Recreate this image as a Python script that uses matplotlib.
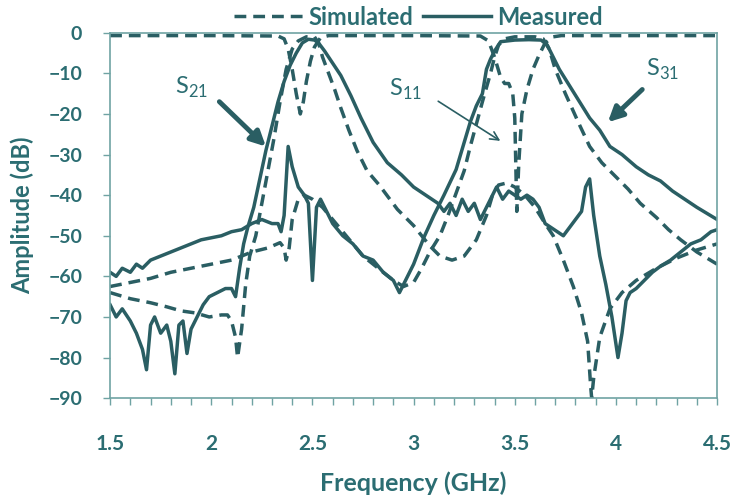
import matplotlib
matplotlib.use('Agg')
import matplotlib.pyplot as plt
from matplotlib.ticker import MultipleLocator

# colours / font
line_c = '#2a5e63'
text_c = '#2b6d72'
spine_c = '#6fa3a3'
plt.rcParams['font.family'] = ['Lato', 'DejaVu Sans']
plt.rcParams['mathtext.fontset'] = 'custom'
plt.rcParams['mathtext.rm'] = 'Lato'

# data (GHz, dB)
s11_sim_f = [1.50, 2.00, 2.33, 2.36, 2.38, 2.40, 2.42, 2.44, 2.455, 2.47, 2.49, 2.51, 2.54, 2.58,
             3.00, 3.33, 3.37, 3.40, 3.43, 3.45, 3.47, 3.49, 3.50, 3.51, 3.52, 3.535, 3.56, 3.59,
             3.62, 3.65, 3.69, 3.73, 4.50]
s11_sim_db = [-0.7, -0.7, -0.8, -1.5, -4, -9, -15, -20, -17, -12, -7, -3.5, -1.2, -0.7,
              -0.7, -0.8, -2, -6, -11, -12.5, -12.5, -15, -21, -44, -32, -20, -14, -9,
              -5.5, -2.5, -1, -0.7, -0.7]

s21_sim_f = [1.50, 1.60, 1.70, 1.78, 1.85, 1.92, 1.99, 2.05, 2.08, 2.10, 2.12, 2.13, 2.15, 2.17,
             2.19, 2.22, 2.25, 2.28, 2.31, 2.34, 2.37, 2.40, 2.43, 2.47, 2.51, 2.53, 2.55, 2.58,
             2.61, 2.64, 2.68, 2.72, 2.77, 2.83, 2.92, 3.00, 3.08, 3.13, 3.19, 3.25, 3.31, 3.36,
             3.39, 3.42, 3.46, 3.50, 3.55, 3.60, 3.65, 3.69, 3.74, 3.79, 3.83, 3.86, 3.875, 3.88,
             3.89, 3.92, 3.97, 4.03, 4.10, 4.20, 4.30, 4.40, 4.50]
s21_sim_db = [-64, -65.5, -66.5, -67.5, -68.5, -69, -70, -69.5, -69.5, -71, -75, -80, -73, -62,
              -55, -50, -42, -34, -26, -17, -9, -4, -2, -1, -1, -2.5, -6, -10,
              -14, -18.5, -24, -29, -34, -37.5, -43.5, -47.5, -52.5, -55, -56, -55, -51, -45,
              -40, -37.5, -37, -38, -40, -43, -47, -50, -56, -62.6, -69, -76, -87, -90,
              -85, -75, -68, -64, -61, -58, -55.5, -53.5, -52]

s31_sim_f = [1.50, 1.60, 1.70, 1.80, 1.90, 2.00, 2.10, 2.20, 2.28, 2.34, 2.36, 2.37, 2.385, 2.40,
             2.43, 2.46, 2.50, 2.55, 2.60, 2.65, 2.70, 2.75, 2.80, 2.85, 2.90, 2.95, 3.00, 3.04,
             3.08, 3.13, 3.17, 3.21, 3.25, 3.28, 3.31, 3.34, 3.36, 3.38, 3.40, 3.42, 3.45, 3.50,
             3.60, 3.64, 3.67, 3.70, 3.75, 3.82, 3.87, 3.93, 4.00, 4.06, 4.12, 4.20, 4.26, 4.32,
             4.40, 4.50]
s31_sim_db = [-62.5, -61.5, -60.5, -59, -58, -57, -56, -54, -53, -51.7, -53, -56, -53, -46,
              -41, -40, -41, -43, -46, -49, -52, -55, -57, -59, -61, -62.5, -61.5, -58,
              -54, -50, -45, -39.5, -34, -28, -22.5, -17, -13.5, -10, -6, -3, -1.5, -1,
              -1, -1.5, -4, -9, -15, -22.7, -28, -32, -35.5, -38.5, -42, -45.5, -48.5, -51,
              -54, -57]

s21_meas_f = [1.50, 1.53, 1.56, 1.60, 1.63, 1.66, 1.68, 1.70, 1.72, 1.75, 1.78, 1.80, 1.82, 1.84,
              1.86, 1.88, 1.90, 1.93, 1.96, 1.99, 2.03, 2.07, 2.10, 2.12, 2.14, 2.16, 2.18, 2.21,
              2.24, 2.27, 2.30, 2.33, 2.36, 2.39, 2.42, 2.45, 2.48, 2.51, 2.53, 2.56, 2.60, 2.64,
              2.69, 2.74, 2.80, 2.87, 2.94, 3.00, 3.06, 3.12, 3.15, 3.18, 3.21, 3.24, 3.27, 3.30,
              3.33, 3.36, 3.39, 3.41, 3.44, 3.47, 3.50, 3.53, 3.56, 3.59, 3.62, 3.65, 3.68, 3.71,
              3.74, 3.77, 3.80, 3.83, 3.85, 3.87, 3.89, 3.92, 3.95, 3.98, 4.01, 4.03, 4.05, 4.07,
              4.10, 4.14, 4.18, 4.22, 4.27, 4.32, 4.37, 4.42, 4.47, 4.50]
s21_meas_db = [-67, -70, -68, -71, -74, -78, -83, -72, -70, -74, -72, -76, -84, -72,
               -71, -79, -73, -70, -67, -65, -64, -63, -63, -65, -58, -52, -48, -43,
               -36, -29, -23, -17, -12, -8, -5, -2.5, -1.6, -1.8, -2.5, -4.5, -7.5, -10.5,
               -15.5, -21, -27, -32, -35, -38, -40, -42, -44, -42, -45, -41, -44, -42,
               -46, -43, -40, -38, -41, -39, -40, -41, -40, -41, -43, -47, -48, -49,
               -50, -48, -46, -44, -38, -36, -45, -55, -62, -70, -80, -74, -66, -64,
               -63, -61, -59, -57.5, -56, -54, -52, -51, -49, -48.5]

s31_meas_f = [1.50, 1.53, 1.56, 1.60, 1.63, 1.66, 1.70, 1.75, 1.80, 1.85, 1.90, 1.95, 2.00, 2.05,
              2.10, 2.15, 2.20, 2.25, 2.30, 2.33, 2.345, 2.36, 2.38, 2.40, 2.43, 2.46, 2.48, 2.50,
              2.52, 2.54, 2.57, 2.60, 2.65, 2.70, 2.75, 2.80, 2.85, 2.90, 2.93, 2.96, 3.00, 3.05,
              3.10, 3.15, 3.21, 3.25, 3.28, 3.31, 3.34, 3.36, 3.38, 3.40, 3.43, 3.50, 3.57, 3.63,
              3.66, 3.69, 3.72, 3.77, 3.82, 3.87, 3.92, 3.97, 4.03, 4.10, 4.16, 4.22, 4.28, 4.34,
              4.40, 4.45, 4.50]
s31_meas_db = [-59, -60, -58, -59, -57, -58, -56, -55, -54, -53, -52, -51, -50.5, -50,
               -49, -48.5, -47, -46, -47, -47, -49, -45, -28, -33, -38, -40, -42, -61,
               -43, -41, -44, -47, -50, -52, -55, -56, -59, -61, -64, -61, -57, -50.5,
               -45, -40, -33.7, -27, -22, -18, -15, -9, -6.5, -4.5, -2.2, -1.8, -1.7, -1.8,
               -3, -6, -9, -13, -17, -21, -24, -28, -30, -33, -35, -36.5, -39, -41,
               -43, -44.5, -46]

x_ticks = [1.5, 2, 2.5, 3, 3.5, 4, 4.5]
x_labels = ['1.5', '2', '2.5', '3', '3.5', '4', '4.5']

fig = plt.figure(figsize=(7.34, 5.04), dpi=100)
ax = fig.add_axes([0.150, 0.210, 0.827, 0.725])

dash = dict(color=line_c, lw=2.5, ls=(0, (3.4, 2.0)))
solid = dict(color=line_c, lw=2.5, ls='-')
ax.plot(s11_sim_f, s11_sim_db, **dash)
ax.plot(s31_sim_f, s31_sim_db, **dash)
ax.plot(s21_sim_f, s21_sim_db, **dash, label='Simulated')
ax.plot(s31_meas_f, s31_meas_db, **solid)
ax.plot(s21_meas_f, s21_meas_db, **solid, label='Measured')

ax.set_xlim(1.5, 4.5)
ax.set_ylim(-90, 0)
ax.set_xticks(x_ticks)
ax.set_xticklabels(x_labels)
ax.xaxis.set_minor_locator(MultipleLocator(0.1))
ax.yaxis.set_major_locator(MultipleLocator(10))
ax.tick_params(axis='x', which='both', direction='out', length=5, width=1, color=spine_c,
               labelsize=15, labelcolor=text_c, pad=21)
ax.tick_params(axis='y', direction='out', length=5, width=1, color=spine_c,
               labelsize=14, labelcolor=text_c, pad=15)
for lab in ax.get_xticklabels() + ax.get_yticklabels():
    lab.set_fontweight('bold')
for sp in ax.spines.values():
    sp.set_color(spine_c)
    sp.set_linewidth(1.2)

ax.set_xlabel('Frequency (GHz)', fontsize=18, fontweight='bold', color=text_c, labelpad=12)
ax.set_ylabel('Amplitude (dB)', fontsize=17, fontweight='bold', color=text_c, labelpad=10)

# annotations
ax.text(1.90, -13.5, r'S$_{21}$', fontsize=17, color=text_c, ha='center', va='center')
ax.annotate('', xy=(2.28, -28.5), xytext=(2.03, -16.5),
            arrowprops=dict(arrowstyle='-|>', lw=3.5, color=line_c, mutation_scale=22))
ax.text(2.96, -14.0, r'S$_{11}$', fontsize=17, color=text_c, ha='center', va='center')
ax.annotate('', xy=(3.44, -27), xytext=(3.11, -16.5),
            arrowprops=dict(arrowstyle='->', lw=1.2, color=line_c, mutation_scale=15))
ax.text(4.23, -9.0, r'S$_{31}$', fontsize=17, color=text_c, ha='center', va='center')
ax.annotate('', xy=(3.95, -22.5), xytext=(4.14, -13.5),
            arrowprops=dict(arrowstyle='-|>', lw=3.5, color=line_c, mutation_scale=22))

leg = fig.legend(loc='center', bbox_to_anchor=(0.57, 0.966), ncol=2, frameon=False,
                 handlelength=2.9, handletextpad=0.25, columnspacing=0.4,
                 prop=dict(size=17, weight='bold'))
for t in leg.get_texts():
    t.set_color(text_c)

plt.savefig('out.png', dpi=100)
